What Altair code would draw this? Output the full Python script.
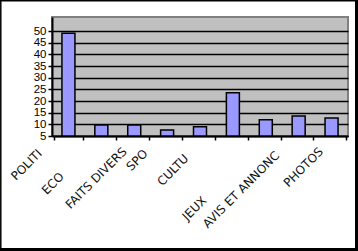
import altair as alt
import pandas as pd

categories = ["POLITI", "ECO", "FAITS DIVERS", "SPO", "CULTU", "JEUX",
              "AVIS ET ANNONC", "PHOTOS", " "]
values = [49, 9.7, 9.7, 7.6, 9, 23.5, 12, 13.6, 12.7]
y_ticks = [5, 10, 15, 20, 25, 30, 35, 40, 45, 50]
baseline = 5

df = pd.DataFrame({"cat": categories, "val": values, "base": [baseline] * len(values)})

W, H = 296, 119

# per-label placement tweaks (style only)
label_dx = {"POLITI": -29, "ECO": -40, "FAITS DIVERS": -10, "SPO": -22, "CULTU": -14,
            "JEUX": -29, "AVIS ET ANNONC": 11, "PHOTOS": 22}
label_dy = {"POLITI": 11, "ECO": 34, "FAITS DIVERS": 9, "SPO": 11, "CULTU": 16,
            "JEUX": 58, "AVIS ET ANNONC": 13, "PHOTOS": 9}


def build_expr(d, default):
    expr = str(default)
    for k, v in d.items():
        expr = f"datum.value === '{k}' ? {v} : ({expr})"
    return expr


bars = alt.Chart(df).mark_bar(
    size=13, fill="#9999FF", stroke="black", strokeWidth=1.5
).encode(
    x=alt.X("cat:N", sort=categories, title=None,
            axis=alt.Axis(tickBand="extent", labelAngle=-45, labelAlign="right",
                          labelBaseline="middle", labelFont="DejaVu Sans",
                          labelFontSize=12, labelColor="#111111",
                          labelOffset=alt.ExprRef(build_expr(label_dx, 0)),
                          labelPadding=alt.ExprRef(build_expr(label_dy, 12)),
                          domainColor="black", domainWidth=2,
                          tickColor="black", tickWidth=1.5, tickSize=4,
                          grid=False, labelOverlap=False, labelLimit=200)),
    y=alt.Y("val:Q", title=None,
            scale=alt.Scale(domain=[5, 56], nice=False, zero=False),
            axis=alt.Axis(values=y_ticks, grid=True, gridColor="black", gridWidth=1.5,
                          domainColor="black", domainWidth=2,
                          tickColor="black", tickWidth=1.5, tickSize=4,
                          labelFont="Liberation Sans", labelFontSize=11.5,
                          labelColor="black", labelPadding=2)),
    y2="base:Q",
)

one = pd.DataFrame({"k": [0]})
left = alt.Chart(one).mark_rule(color="black", strokeWidth=1.5).encode(
    x=alt.value(-51.2), y=alt.value(-17), y2=alt.value(234))
top = alt.Chart(one).mark_rule(color="black", strokeWidth=1.5).encode(
    x=alt.value(-52), x2=alt.value(306), y=alt.value(-16.2))
right = alt.Chart(one).mark_rule(color="black", strokeWidth=3).encode(
    x=alt.value(304.5), y=alt.value(-17), y2=alt.value(234))
bottom = alt.Chart(one).mark_rule(color="black", strokeWidth=3).encode(
    x=alt.value(-52), x2=alt.value(306), y=alt.value(232.5))

chart = alt.layer(bars, left, top, right, bottom).properties(
    width=W, height=H,
    padding={"left": 52, "top": 17, "right": 10, "bottom": 115},
    autosize="none",
    background="white",
).configure_view(fill="#C0C0C0", stroke="#808080", strokeWidth=2)

chart.save("out.html", embed_options={"renderer": "svg", "actions": False})
